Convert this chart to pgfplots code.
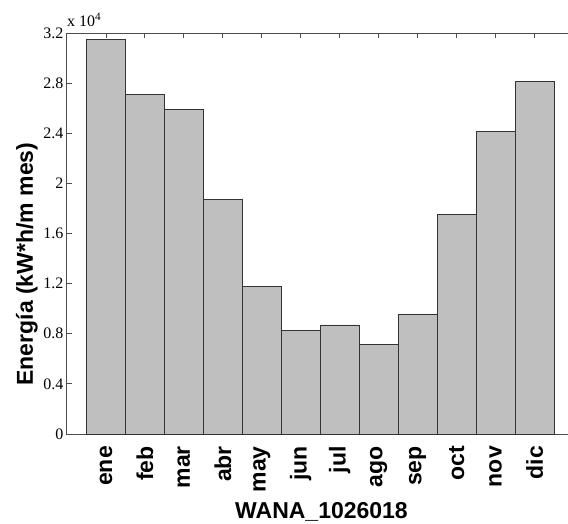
\documentclass[border=0pt]{standalone}
\usepackage{fontspec}
\setmainfont{Liberation Serif}
\newfontfamily\arialb{Liberation Sans}
\usepackage{pgfplots}
\pgfplotsset{compat=1.18}
\begin{document}
\begin{tikzpicture}
\begin{axis}[
  name=ax,
  scale only axis,
  width=506.5pt, height=401pt,
  xmin=0, xmax=13, ymin=0, ymax=3.2,
  xtick={1,2,3,4,5,6,7,8,9,10,11,12},
  xticklabels={ene,feb,mar,abr,may,jun,jul,ago,sep,oct,nov,dic},
  ytick={0,0.4,0.8,1.2,1.6,2,2.4,2.8,3.2},
  scaled y ticks=false,
  tick align=inside,
  major tick length=5pt,
  axis line style={draw=black!70, line width=1pt},
  tick style={draw=black!70, line width=0.9pt},
  xticklabel style={rotate=90, anchor=east, inner xsep=12pt, font=\arialb\bfseries\fontsize{23}{23}\selectfont},
  yticklabel style={font=\fontsize{16}{16}\selectfont, /pgf/number format/assume math mode=true},
  ylabel={Energía (kW*h/m mes)},
  ylabel style={at={(axis description cs:-0.079,0.424)}, anchor=center, font=\arialb\bfseries\fontsize{23}{23}\selectfont},
  xlabel={WANA\_1026018},
  xlabel style={at={(axis description cs:0.5025,-0.2107)}, anchor=base, font=\arialb\bfseries\fontsize{23}{23}\selectfont},
]
\addplot[ybar, bar width=1, fill=gray!50, draw=black!80, line width=0.9pt] coordinates {
(1,3.145) (2,2.710) (3,2.588) (4,1.874) (5,1.178) (6,0.826)
(7,0.870) (8,0.714) (9,0.958) (10,1.750) (11,2.412) (12,2.814)
};
\end{axis}
\node[anchor=base west, font=\fontsize{16}{16}\selectfont, inner sep=0pt] at ([yshift=6.5pt]ax.north west) {x 10\textsuperscript{4}};
\pgfresetboundingbox
\path (ax.south west) ++(-67pt,-89pt) rectangle ++(568pt,523pt);
\end{tikzpicture}
\end{document}
